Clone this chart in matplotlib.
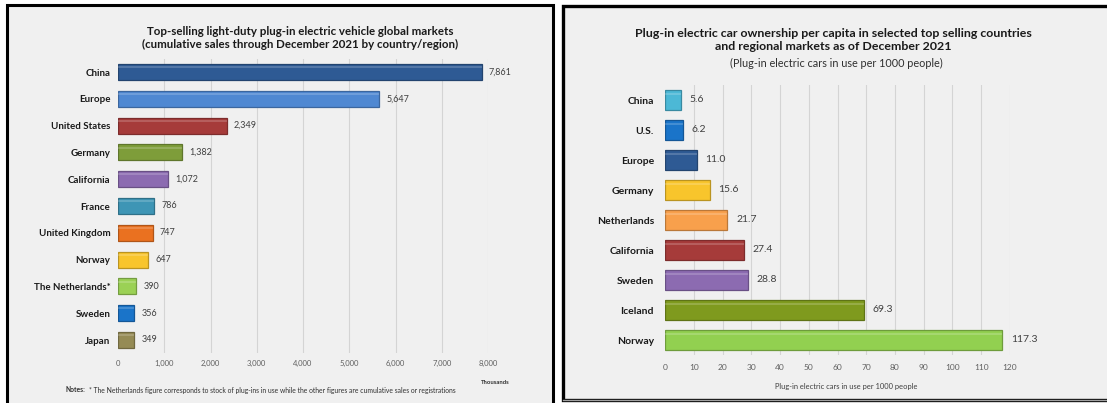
import matplotlib.pyplot as plt
from matplotlib.patches import Rectangle

# Данные: левая диаграмма (тыс. проданных автомобилей)
sales_regions = ['China', 'Europe', 'United States', 'Germany', 'California', 'France',
                 'United Kingdom', 'Norway', 'The Netherlands*', 'Sweden', 'Japan']
sales_values = [7861, 5647, 2349, 1382, 1072, 786, 747, 647, 390, 356, 349]
sales_colors = ['#2E5A94', '#4F88D2', '#A63B3A', '#7E9D3A', '#8C6BB1', '#3E95B5',
                '#EA7120', '#F8C52C', '#9BD155', '#1A74C9', '#958B55']
sales_ticks = [0, 1000, 2000, 3000, 4000, 5000, 6000, 7000, 8000]

# Данные: правая диаграмма (на 1000 человек)
capita_regions = ['China', 'U.S.', 'Europe', 'Germany', 'Netherlands', 'California',
                  'Sweden', 'Iceland', 'Norway']
capita_values = [5.6, 6.2, 11.0, 15.6, 21.7, 27.4, 28.8, 69.3, 117.3]
capita_colors = ['#4CB8D6', '#1A74C9', '#2E5A94', '#F8C52C', '#F8A04C', '#A63B3A',
                 '#8C6BB1', '#7F9A1E', '#92D050']
capita_ticks = list(range(0, 130, 10))

W, H = 1107, 403
plt.rcParams['font.family'] = ['Lato', 'DejaVu Sans']

fig = plt.figure(figsize=(W / 100, H / 100), dpi=100)
fig.patch.set_facecolor('white')


def px_box(x0, y0, x1, y1):
    # пиксели (от верхнего левого угла) -> координаты фигуры
    return [x0 / W, 1 - y1 / H, (x1 - x0) / W, (y1 - y0) / H]


def darker(c, f=0.75):
    r, g, b = int(c[1:3], 16), int(c[3:5], 16), int(c[5:7], 16)
    return (r / 255 * f, g / 255 * f, b / 255 * f)


# Фоновые панели
fig.patches.append(Rectangle((7 / W, -0.05), (553 - 7) / W, 1 - 5 / H + 0.05,
                             transform=fig.transFigure, facecolor='#F0F0F0',
                             edgecolor='black', linewidth=2.2, zorder=-5))
fig.patches.append(Rectangle((563 / W, 1 - 400 / H), (W + 10 - 563) / W, (400 - 6) / H,
                             transform=fig.transFigure, facecolor='#F0F0F0',
                             edgecolor='black', linewidth=2.4, zorder=-5))
fig.lines.append(plt.Line2D([563 / W, 1], [1 - 400 / H] * 2, transform=fig.transFigure,
                            color='#A0A0A0', linewidth=1.0, zorder=-4))


def draw_panel(ax, labels, values, colors, ticks, xmax, height, fmt, val_fs, lab_fs,
               tick_fs, offset, ypad, xpad):
    n = len(labels)
    ys = list(range(n))
    ax.set_facecolor('none')
    for x in ticks[1:]:
        ax.axvline(x, color='#D4D4D4', linewidth=0.8, zorder=0)
    edges = [darker(c) for c in colors]
    ax.barh(ys, values, height=height, color=colors, edgecolor=edges, linewidth=0.9,
            zorder=2)
    # блик сверху для объёмного вида
    ax.barh([y - height * 0.3 for y in ys], values, height=height * 0.12,
            color='white', alpha=0.18, linewidth=0, zorder=3)
    for y, v in zip(ys, values):
        ax.text(v + offset, y, fmt(v), va='center', ha='left', fontsize=val_fs,
                color='#404040')
    ax.set_xlim(0, xmax)
    ax.set_ylim(n - 0.5, -0.5)
    ax.set_yticks(ys)
    ax.set_yticklabels(labels, fontsize=lab_fs, fontweight='bold', color='#1A1A1A')
    ax.set_xticks(ticks)
    ax.tick_params(axis='both', length=0)
    ax.tick_params(axis='y', pad=ypad)
    ax.tick_params(axis='x', labelsize=tick_fs, labelcolor='#606060', pad=xpad)
    for s in ax.spines.values():
        s.set_visible(False)


ax1 = fig.add_axes(px_box(118, 58.6, 488, 353.4))
draw_panel(ax1, sales_regions, sales_values, sales_colors, sales_ticks, 8000, 0.6,
           lambda v: f'{v:,}', 6.5, 7, 5.5, 160, 5.5, 5)
ax1.set_xticklabels([f'{t:,}' for t in sales_ticks])

ax2 = fig.add_axes(px_box(665, 85, 1010, 355))
draw_panel(ax2, capita_regions, capita_values, capita_colors, capita_ticks, 120, 0.67,
           lambda v: f'{v:.1f}', 7.5, 7.5, 6, 3, 8, 6.5)

# Заголовки и подписи
fig.text(300 / W, 1 - 38 / H,
         'Top-selling light-duty plug-in electric vehicle global markets\n'
         '(cumulative sales through December 2021 by country/region)',
         ha='center', va='center', fontsize=8.3, fontweight='bold', color='#1A1A1A',
         linespacing=1.3)
fig.text(495 / W, 1 - 383 / H, 'Thousands', ha='center', va='center', fontsize=4.2,
         fontweight='bold', color='#303030')
fig.text(65 / W, 1 - 390 / H, 'Notes:', ha='left', va='center', fontsize=4.9,
         fontweight='bold', color='#303030')
fig.text(89 / W, 1 - 390 / H,
         '* The Netherlands figure corresponds to stock of plug-ins in use while the other '
         'figures are cumulative sales or registrations',
         ha='left', va='center', fontsize=4.85, color='#303030')

fig.text(833 / W, 1 - 40 / H,
         'Plug-in electric car ownership per capita in selected top selling countries\n'
         'and regional markets as of December 2021',
         ha='center', va='center', fontsize=8.9, fontweight='bold', color='#1A1A1A',
         linespacing=1.25)
fig.text(836 / W, 1 - 63 / H, '(Plug-in electric cars in use per 1000 people)',
         ha='center', va='center', fontsize=7.8, color='#303030')
fig.text(846 / W, 1 - 386 / H, 'Plug-in electric cars in use per 1000 people',
         ha='center', va='center', fontsize=5.4, color='#404040')

fig.savefig('out.png', dpi=100)
